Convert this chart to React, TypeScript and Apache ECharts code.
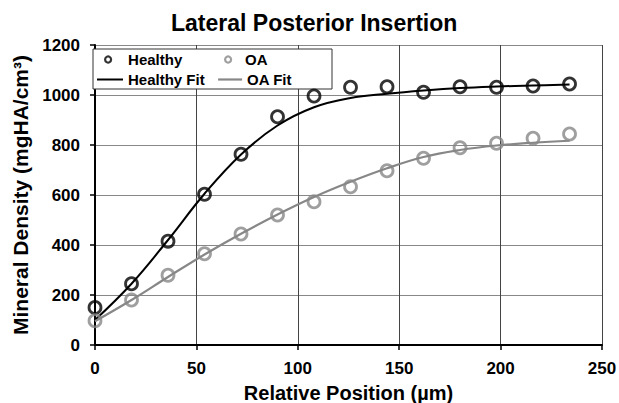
import React, { useEffect, useRef } from 'react';
import * as echarts from 'echarts';

const positions = [0, 18, 36, 54, 72, 90, 108, 126, 144, 162, 180, 198, 216, 234];
const healthy = [150, 245, 415, 603, 763, 913, 996, 1031, 1033, 1011, 1033, 1031, 1036, 1044];
const oa = [97, 180, 279, 365, 444, 520, 573, 633, 697, 747, 789, 807, 827, 844];
const healthyFit = [100, 245, 420, 605, 762, 878, 951, 988, 1005, 1018, 1028, 1034, 1038, 1042];
const oaFit = [95, 180, 272, 362, 445, 522, 592, 653, 707, 752, 780, 798, 809, 817];

const FONT = '"Liberation Sans", Arial, sans-serif';
const BLACK = '#000';
const GRAY = '#878787';

const pairs = (ys: number[]) => positions.map((x, i) => [x, ys[i]]);

export default function App() {
  const ref = useRef<HTMLDivElement>(null);
  useEffect(() => {
    document.body.style.margin = '0';
    if (!ref.current) return;
    const chart = echarts.init(ref.current, undefined, { renderer: 'svg' });
    const legendText = { fontFamily: FONT, fontWeight: 'bold' as const, fontSize: 15, color: BLACK, lineHeight: 14 };
    const axisLabel = {
      fontFamily: FONT,
      fontWeight: 'bold' as const,
      fontSize: 17,
      color: BLACK,
      formatter: (v: number) => String(v),
    };
    chart.setOption({
      animation: false,
      title: {
        text: 'Lateral Posterior Insertion',
        left: 171,
        top: 11,
        padding: 0,
        textStyle: { fontFamily: FONT, fontWeight: 'bold', fontSize: 23, color: BLACK },
      },
      grid: { left: 95, right: 17, top: 45, bottom: 58, containLabel: false, outerBoundsMode: 'none' },
      graphic: [
        {
          type: 'rect',
          z: 3,
          shape: { x: 93, y: 49, width: 239, height: 40 },
          style: { fill: '#fff', stroke: '#333', lineWidth: 1 },
        },
      ],
      legend: [
        {
          data: ['Healthy'], left: 104, top: 52, padding: 0, itemWidth: 30, itemHeight: 6, z: 5,
          itemStyle: { color: 'transparent', borderColor: BLACK, borderWidth: 2.2 },
          textStyle: legendText,
        },
        {
          data: ['OA'], left: 224, top: 52, padding: 0, itemWidth: 24, itemHeight: 6, z: 5,
          itemStyle: { color: 'transparent', borderColor: GRAY, borderWidth: 2.2 },
          textStyle: legendText,
        },
        {
          data: ['Healthy Fit'], left: 96, top: 72, padding: 0, itemWidth: 26, itemHeight: 14, z: 5,
          lineStyle: { color: BLACK, width: 2 },
          itemStyle: { color: 'transparent', borderColor: 'transparent', borderWidth: 0, opacity: 0 },
          textStyle: legendText,
        },
        {
          data: ['OA Fit'], left: 217, top: 72, padding: 0, itemWidth: 24, itemHeight: 14, z: 5,
          lineStyle: { color: GRAY, width: 2.2 },
          itemStyle: { color: 'transparent', borderColor: 'transparent', borderWidth: 0, opacity: 0 },
          textStyle: legendText,
        },
      ],
      xAxis: {
        type: 'value',
        min: 0,
        max: 250,
        interval: 50,
        name: 'Relative Position (µm)',
        nameLocation: 'middle',
        nameGap: 38,
        nameTextStyle: { fontFamily: FONT, fontWeight: 'bold', fontSize: 20, color: BLACK },
        axisLine: { show: true, onZero: false, lineStyle: { color: BLACK, width: 2 } },
        axisTick: { show: true, length: 5, lineStyle: { color: BLACK, width: 1.5 } },
        axisLabel: { ...axisLabel, margin: 15 },
        splitLine: { show: true, lineStyle: { color: '#444', width: 1 } },
      },
      yAxis: {
        type: 'value',
        min: 0,
        max: 1200,
        interval: 200,
        name: 'Mineral Density (mgHA/cm³)',
        nameLocation: 'middle',
        nameGap: 58,
        nameTextStyle: { fontFamily: FONT, fontWeight: 'bold', fontSize: 21, color: BLACK },
        axisLine: { show: true, onZero: false, lineStyle: { color: BLACK, width: 2 } },
        axisTick: { show: true, length: 5, lineStyle: { color: BLACK, width: 1.5 } },
        axisLabel: { ...axisLabel, margin: 15 },
        splitLine: { show: true, lineStyle: { color: '#888', width: 1 } },
      },
      series: [
        {
          name: 'Healthy Fit',
          type: 'line',
          data: pairs(healthyFit),
          smooth: 0.4,
          symbol: 'none',
          lineStyle: { color: BLACK, width: 2 },
          itemStyle: { color: BLACK },
          z: 2,
        },
        {
          name: 'OA Fit',
          type: 'line',
          data: pairs(oaFit),
          smooth: 0.4,
          symbol: 'none',
          lineStyle: { color: GRAY, width: 2.2 },
          itemStyle: { color: GRAY },
          z: 2,
        },
        {
          name: 'Healthy',
          type: 'scatter',
          data: pairs(healthy),
          symbol: 'circle',
          symbolSize: 12,
          itemStyle: { color: 'transparent', borderColor: BLACK, borderWidth: 2.8 },
          z: 3,
        },
        {
          name: 'OA',
          type: 'scatter',
          data: pairs(oa),
          symbol: 'circle',
          symbolSize: 12,
          itemStyle: { color: 'transparent', borderColor: GRAY, borderWidth: 2.8 },
          z: 3,
        },
      ],
    });
    return () => chart.dispose();
  }, []);
  return <div ref={ref} style={{ width: 619, height: 403 }} />;
}
